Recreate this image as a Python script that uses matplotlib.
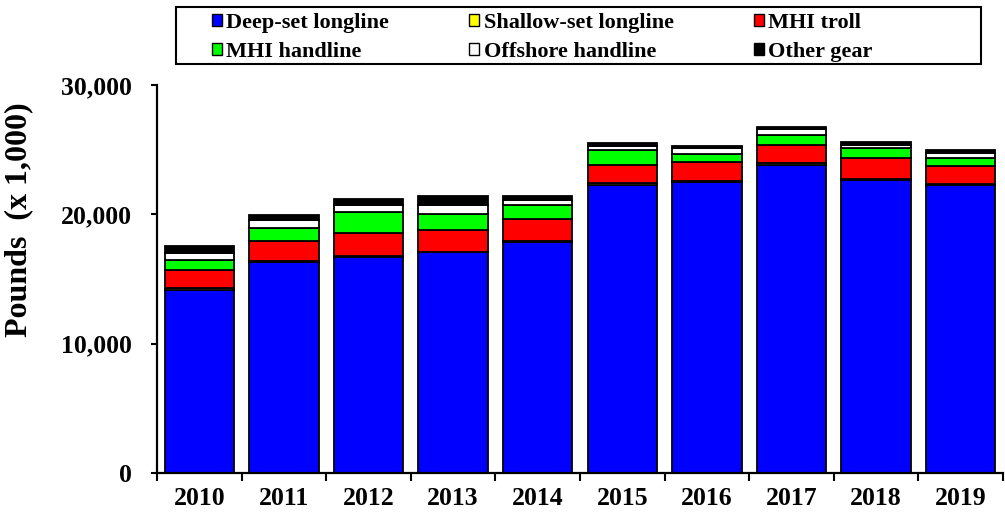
import numpy as np
import matplotlib
matplotlib.use("Agg")
import matplotlib.pyplot as plt
from matplotlib.patches import Rectangle, Patch
from matplotlib.ticker import FuncFormatter, FixedLocator

# landings by gear type, pounds x 1,000
years = ["2010", "2011", "2012", "2013", "2014", "2015", "2016", "2017", "2018", "2019"]
deep_set = [14180, 16330, 16680, 17060, 17880, 22280, 22480, 23830, 22630, 22280]
shallow_set = [90, 70, 90, 20, 70, 115, 115, 115, 115, 80]
mhi_troll = [1430, 1500, 1810, 1710, 1700, 1455, 1425, 1445, 1585, 1360]
mhi_handline = [770, 1030, 1580, 1210, 1100, 1100, 640, 720, 770, 600]
offshore_handline = [570, 600, 560, 740, 360, 330, 440, 460, 260, 390]
other_gear = [540, 390, 460, 700, 280, 260, 200, 180, 210, 260]

series = [
    ("Deep-set longline", deep_set, "#0000FF"),
    ("Shallow-set longline", shallow_set, "#FFFF00"),
    ("MHI troll", mhi_troll, "#FF0000"),
    ("MHI handline", mhi_handline, "#00FF00"),
    ("Offshore handline", offshore_handline, "#FFFFFF"),
    ("Other gear", other_gear, "#000000"),
]

plt.rcParams["font.family"] = ["Liberation Serif", "DejaVu Serif"]
plt.rcParams["font.weight"] = "bold"

W, H = 1005, 513
fig = plt.figure(figsize=(W / 100, H / 100), dpi=100)
ax = fig.add_axes([157 / W, 40 / H, (1003 - 157) / W, (473 - 85) / H])

x = np.arange(len(years))
bottom = np.zeros(len(years))
for name, vals, col in series:
    ax.bar(x, vals, width=0.82, bottom=bottom, color=col, edgecolor="black",
           linewidth=1.3, label=name, zorder=2)
    bottom += np.array(vals)

ax.set_xlim(-0.5, len(years) - 0.5)
ax.set_ylim(0, 30000)
ax.set_yticks([0, 10000, 20000, 30000])
ax.yaxis.set_major_formatter(FuncFormatter(lambda v, p: f"{int(v):,}"))

# ticks between categories, labels centred under the bars
ax.xaxis.set_major_locator(FixedLocator(np.arange(-0.5, len(years), 1.0)))
ax.xaxis.set_minor_locator(FixedLocator(x))
ax.set_xticklabels([], minor=False)
ax.set_xticklabels(years, minor=True)
ax.tick_params(axis="x", which="major", direction="out", length=6, width=1.5)
ax.tick_params(axis="x", which="minor", length=0, pad=10, labelsize=18.5)
ax.tick_params(axis="y", direction="out", length=4, width=1.5, pad=14, labelsize=18.5)

for s in ["top", "right"]:
    ax.spines[s].set_visible(False)
for s in ["left", "bottom"]:
    ax.spines[s].set_linewidth(1.6)

ax.set_ylabel("Pounds  (x 1,000)", fontsize=23, fontweight="bold")
ax.yaxis.set_label_coords(-0.146, 0.652)

# legend: filled column by column, so reorder to read row by row
order = [0, 3, 1, 4, 2, 5]
handles = [Patch(facecolor=series[i][2], edgecolor="black", linewidth=1.0) for i in order]
labels = [series[i][0] for i in order]
fig.legend(handles, labels, ncol=3, frameon=False, fontsize=16,
           loc="upper left", bbox_to_anchor=(212 / W, 1 - 13 / H),
           borderpad=0, borderaxespad=0, handlelength=0.45, handleheight=0.45,
           handletextpad=0.2, columnspacing=3.6, labelspacing=0.4)
fig.patches.append(Rectangle((176 / W, 1 - 64 / H), (981 - 176) / W, (64 - 7) / H,
                             transform=fig.transFigure, fill=False,
                             edgecolor="black", linewidth=1.5))

fig.savefig("out.png", dpi=100)
